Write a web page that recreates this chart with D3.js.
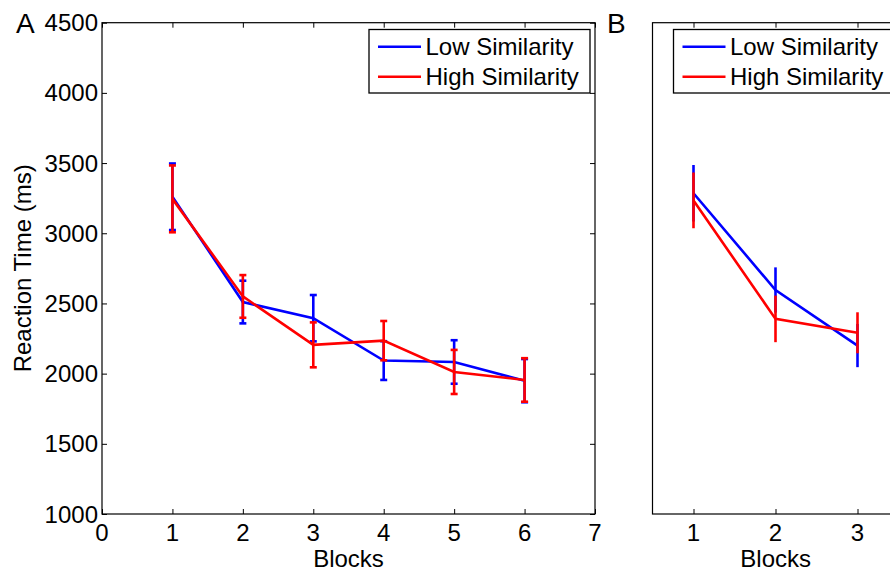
<!DOCTYPE html>
<html>
<head>
<meta charset="utf-8">
<script src="https://cdn.jsdelivr.net/npm/d3@7"></script>
<style>
  body { margin: 0; background: #fff; }
  svg { display: block; font-family: "Liberation Sans", Arial, Helvetica, sans-serif; }
</style>
</head>
<body>
<div id="app"></div>
<script>
// panel A values
const blocksA = [1, 2, 3, 4, 5, 6]
const lowA = [3260, 2510, 2395, 2093, 2083, 1950]
const lowAErr = [237, 152, 165, 138, 155, 154]
const highA = [3245, 2550, 2205, 2235, 2012, 1955]
const highAErr = [238, 152, 160, 140, 157, 155]

// panel B values (cut off at the right edge)
const blocksB = [1, 2, 3]
const lowB = [3285, 2596, 2200]
const lowBErr = [202, 161, 154]
const highB = [3234, 2390, 2291]
const highBErr = [198, 166, 146]

const yTicks = [1000, 1500, 2000, 2500, 3000, 3500, 4000, 4500]
const xTicksA = [0, 1, 2, 3, 4, 5, 6, 7]
const xTicksB = [1, 2, 3, 4, 5, 6]
const seriesNames = ['Low Similarity', 'High Similarity']
const colors = ['#0000ff', '#ff0000']

const W = 890, H = 570
const yTop = 22.7, yBottom = 514
const fs = 24

const svg = d3.select('#app').append('svg')
    .attr('width', W).attr('height', H)

const y = d3.scaleLinear().domain([1000, 4500]).range([yBottom, yTop])

function panel(opts){
    const x = d3.scaleLinear().domain(opts.domain).range(opts.range)
    const g = svg.append('g')
    const x0 = opts.range[0], x1 = opts.range[1]

    // box
    g.append('rect').attr('x', x0).attr('y', yTop)
        .attr('width', x1 - x0).attr('height', yBottom - yTop)
        .attr('fill', 'none').attr('stroke', '#000').attr('stroke-width', 1.2)

    // inward ticks top/bottom
    g.append('g').attr('transform', `translate(0,${yBottom})`)
        .call(d3.axisTop(x).tickValues(opts.xTicks).tickSize(5).tickFormat(''))
        .call(a => a.select('.domain').remove())
    g.append('g').attr('transform', `translate(0,${yTop})`)
        .call(d3.axisBottom(x).tickValues(opts.xTicks).tickSize(5).tickFormat(''))
        .call(a => a.select('.domain').remove())

    // x labels (only the ones inside the picture)
    g.selectAll('.xl').data(opts.xTicks.filter(d => x(d) < W - 10)).enter().append('text')
        .attr('x', d => x(d)).attr('y', 540.5)
        .attr('text-anchor', 'middle').attr('font-size', fs)
        .text(d => d)
    g.append('text').attr('x', opts.labelX).attr('y', 566.5)
        .attr('text-anchor', 'middle').attr('font-size', fs).text('Blocks')

    if(opts.yTicks){
        g.append('g').attr('transform', `translate(${x0},0)`)
            .call(d3.axisRight(y).tickValues(yTicks).tickSize(5).tickFormat(''))
            .call(a => a.select('.domain').remove())
        g.append('g').attr('transform', `translate(${x1},0)`)
            .call(d3.axisLeft(y).tickValues(yTicks).tickSize(5).tickFormat(''))
            .call(a => a.select('.domain').remove())
        g.selectAll('.yl').data(yTicks).enter().append('text')
            .attr('x', x0 - 4).attr('y', d => y(d) + 8.5)
            .attr('text-anchor', 'end').attr('font-size', fs)
            .text(d => d)
    }

    // series
    const plot = g.append('g')
    const clipId = 'clip' + opts.name
    svg.append('clipPath').attr('id', clipId).append('rect')
        .attr('x', x0 - 10).attr('y', 0).attr('width', x1 - x0 + 20).attr('height', H)
    plot.attr('clip-path', `url(#${clipId})`)

    opts.series.forEach((s, i) => {
        const pts = opts.blocks.map((b, j) => ({b: b, m: s.mean[j], e: s.err[j]}))
        const line = d3.line().x(d => x(d.b)).y(d => y(d.m))
        plot.append('path').attr('d', line(pts))
            .attr('fill', 'none').attr('stroke', colors[i]).attr('stroke-width', 2.6)
        const eb = plot.append('g').attr('stroke', colors[i]).attr('stroke-width', 2.6)
        eb.selectAll('line.v').data(pts).enter().append('line')
            .attr('x1', d => x(d.b)).attr('x2', d => x(d.b))
            .attr('y1', d => y(d.m + d.e)).attr('y2', d => y(d.m - d.e))
        if(opts.cap > 0){
            [1, -1].forEach(sg => {
                eb.selectAll('line.c' + sg).data(pts).enter().append('line')
                    .attr('x1', d => x(d.b) - opts.cap).attr('x2', d => x(d.b) + opts.cap)
                    .attr('y1', d => y(d.m + sg * d.e)).attr('y2', d => y(d.m + sg * d.e))
            })
        }
    })

    // legend
    const lg = g.append('g').attr('transform', `translate(${opts.legX},29.5)`)
    lg.append('rect').attr('width', 221).attr('height', 63.5)
        .attr('fill', '#fff').attr('stroke', '#000').attr('stroke-width', 1.3)
    seriesNames.forEach((n, i) => {
        const ly = 17.2 + i * 30
        lg.append('line').attr('x1', 9).attr('x2', 52).attr('y1', ly).attr('y2', ly)
            .attr('stroke', colors[i]).attr('stroke-width', 2.6)
        lg.append('text').attr('x', 56.5).attr('y', ly + 8.5)
            .attr('font-size', fs).text(n)
    })

    svg.append('text').attr('x', opts.letter[1]).attr('y', 32.5)
        .attr('font-size', 28).text(opts.letter[0])
}

panel({
    name: 'A', domain: [0, 7], range: [102, 595], xTicks: xTicksA, yTicks: true,
    labelX: 348.5, blocks: blocksA, cap: 3.5, legX: 369,
    series: [{mean: lowA, err: lowAErr}, {mean: highA, err: highAErr}],
    letter: ['A', 16]
})
panel({
    name: 'B', domain: [0.5, 6.5], range: [652.5, 1144.5], xTicks: xTicksB, yTicks: false,
    labelX: 775.7, blocks: blocksB, cap: 0, legX: 673.5,
    series: [{mean: lowB, err: lowBErr}, {mean: highB, err: highBErr}],
    letter: ['B', 607]
})

// y axis title
svg.append('text')
    .attr('transform', `translate(31,${(yTop + yBottom) / 2}) rotate(-90)`)
    .attr('text-anchor', 'middle').attr('font-size', fs)
    .text('Reaction Time (ms)')
</script>
</body>
</html>
